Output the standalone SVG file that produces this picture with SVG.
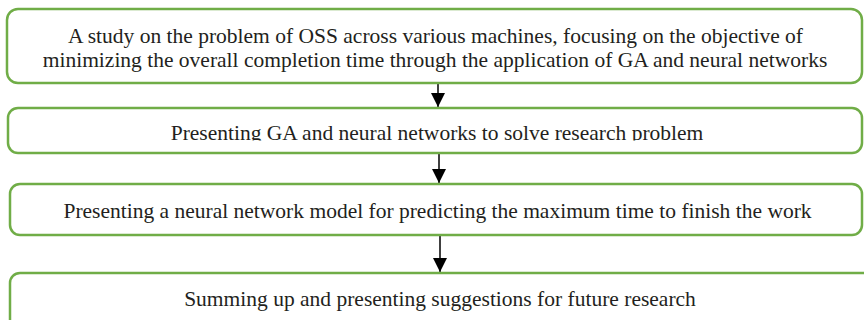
<svg xmlns="http://www.w3.org/2000/svg" width="864" height="320" viewBox="0 0 864 320">
<style>
.box{fill:#fff;stroke:#70AD47;stroke-width:2.5}
.t{font-family:"Liberation Serif","Times New Roman",serif;font-size:21.5px;fill:#231F20;text-anchor:middle}
.c{stroke:#000;stroke-width:1.5;fill:none}
</style>
<defs>
<marker id="ah" markerWidth="14" markerHeight="14" refX="14" refY="7" orient="auto" markerUnits="userSpaceOnUse">
<path d="M0,0 L14,7 L0,14 Z" fill="#000"/>
</marker>
<clipPath id="clip2"><rect x="0" y="100" width="864" height="40.5"/></clipPath>
</defs>
<rect width="864" height="320" fill="#fff"/>
<g id="connectors">
<line class="c" x1="438" y1="84" x2="438" y2="107" marker-end="url(#ah)"/>
<line class="c" x1="439" y1="154" x2="439" y2="183" marker-end="url(#ah)"/>
<line class="c" x1="440" y1="236" x2="440" y2="272" marker-end="url(#ah)"/>
</g>
<g id="node1">
<rect class="box" x="7" y="9" width="855" height="74" rx="11"/>
<text class="t" x="435.5" y="43">A study on the problem of OSS across various machines, focusing on the objective of</text>
<text class="t" x="435" y="67">minimizing the overall completion time through the application of GA and neural networks</text>
</g>
<g id="node2">
<rect class="box" x="8" y="108" width="854" height="45" rx="10"/>
<text class="t" x="437" y="140" clip-path="url(#clip2)">Presenting GA and neural networks to solve research problem</text>
</g>
<g id="node3">
<rect class="box" x="10" y="184" width="852" height="51" rx="10"/>
<text class="t" x="437.5" y="218">Presenting a neural network model for predicting the maximum time to finish the work</text>
</g>
<g id="node4">
<rect class="box" x="10" y="273" width="880" height="80" rx="10"/>
<text class="t" x="440" y="306">Summing up and presenting suggestions for future research</text>
</g>
</svg>
